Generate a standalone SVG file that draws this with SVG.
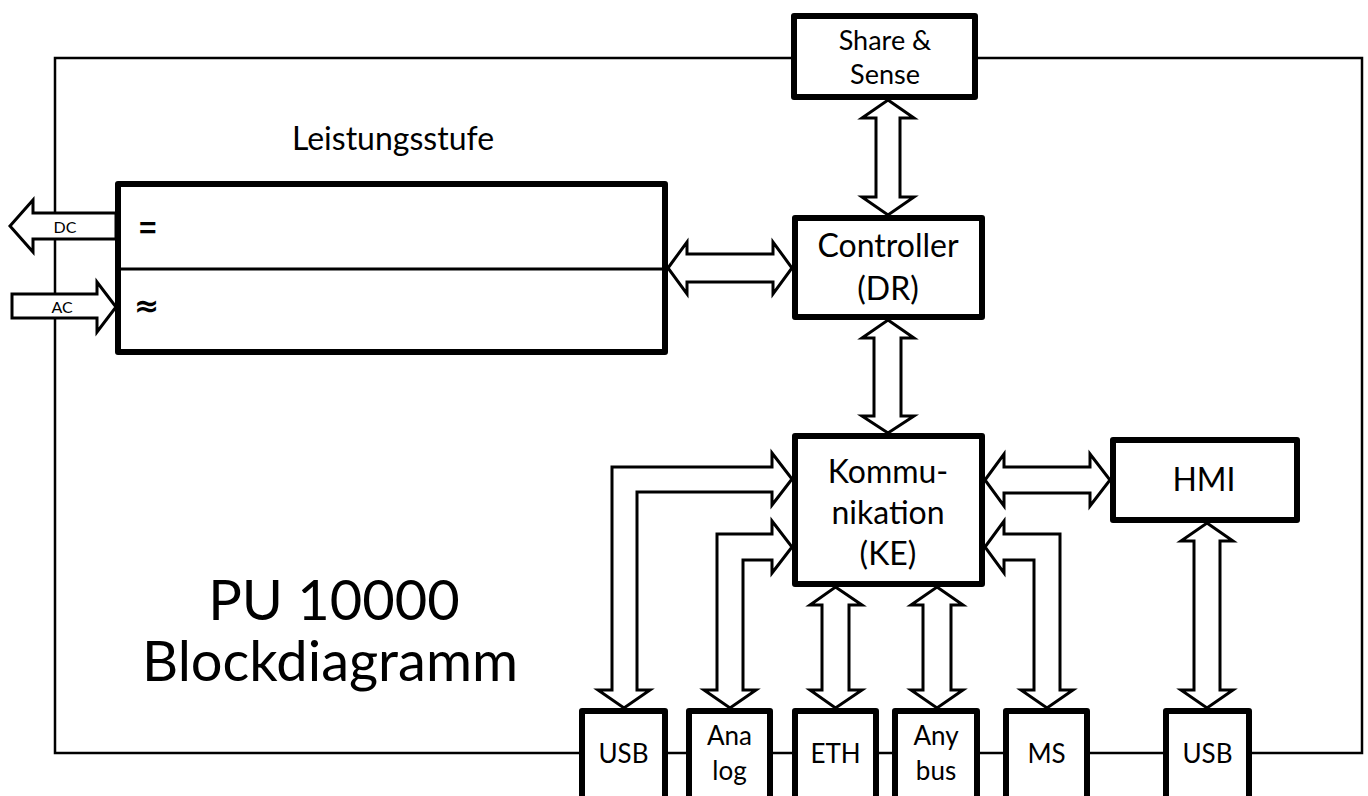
<svg xmlns="http://www.w3.org/2000/svg" width="1368" height="796" viewBox="0 0 1368 796">
<style>
.frame{fill:none;stroke:#000;stroke-width:2.5}
.box{fill:#fff;stroke:#000;stroke-width:6;stroke-linejoin:round}
.arr{fill:#fff;stroke:#000;stroke-width:3;stroke-linejoin:miter}
.div{stroke:#000;stroke-width:3}
text{font-family:Lato,"Open Sans","Liberation Sans",sans-serif;fill:#000;text-anchor:middle}
.t28{font-size:27px}
.t34{font-size:32px}
.t26{font-size:26px}
.small{font-size:16px}
.big{font-size:56px}
.sym{font-family:"Liberation Sans",Arial,sans-serif;font-size:30px;font-weight:bold;text-anchor:start}
.sym2{font-family:"DejaVu Sans",sans-serif;font-size:30px;font-weight:bold;text-anchor:start}
</style>
<rect id="frame" class="frame" x="55" y="58" width="1307" height="695"/>
<g id="title">
<text class="big" x="334" y="620">PU 10000</text>
<text class="big" x="330" y="681">Blockdiagramm</text>
</g>
<g id="leistungsstufe">
<text class="t34" x="393" y="150">Leistungsstufe</text>
<rect class="box" x="118" y="184" width="547" height="168"/>
<line class="div" x1="118" y1="269" x2="665" y2="269"/>
<text class="sym" x="139" y="238">=</text>
<text class="sym2" x="134" y="316">≈</text>
</g>
<g id="share-sense">
<rect class="box" x="794" y="16" width="181" height="81"/>
<text class="t28" x="885" y="50">Share &amp;</text>
<text class="t28" x="885" y="84">Sense</text>
</g>
<g id="controller">
<rect class="box" x="795" y="218" width="187" height="99"/>
<text class="t34" x="888" y="257">Controller</text>
<text class="t34" x="888" y="300">(DR)</text>
</g>
<g id="kommunikation">
<rect class="box" x="795" y="436" width="187" height="148"/>
<text class="t34" x="888" y="483">Kommu-</text>
<text class="t34" x="888" y="524">nikation</text>
<text class="t34" x="888" y="565">(KE)</text>
</g>
<g id="hmi">
<rect class="box" x="1113" y="440" width="184" height="80"/>
<text class="t34" x="1204" y="491">HMI</text>
</g>
<g id="usb1">
<rect class="box" x="582" y="711" width="83" height="100"/>
<text class="t26" x="623.5" y="763">USB</text>
</g>
<g id="analog">
<rect class="box" x="689" y="711" width="81" height="100"/>
<text class="t26" x="729.5" y="745">Ana</text>
<text class="t26" x="729.5" y="780">log</text>
</g>
<g id="eth">
<rect class="box" x="795" y="711" width="81" height="100"/>
<text class="t26" x="835.5" y="763">ETH</text>
</g>
<g id="anybus">
<rect class="box" x="895" y="711" width="82" height="100"/>
<text class="t26" x="936" y="745">Any</text>
<text class="t26" x="936" y="780">bus</text>
</g>
<g id="ms">
<rect class="box" x="1006" y="711" width="81" height="100"/>
<text class="t26" x="1046.5" y="763">MS</text>
</g>
<g id="usb2">
<rect class="box" x="1166" y="711" width="83" height="100"/>
<text class="t26" x="1207.5" y="763">USB</text>
</g>
<g id="connectors">
<polygon class="arr" points="10,226 33,200 33,213 116,213 116,239 33,239 33,252"/>
<text class="small" x="65" y="233">DC</text>
<polygon class="arr" points="12,294 97,294 97,282 116,307 97,332 97,318 12,318"/>
<text class="small" x="62" y="313">AC</text>
<polygon class="arr" points="888,100 914,118 900,118 900,197 914,197 888,215 862,197 876,197 876,118 862,118"/>
<polygon class="arr" points="668,268 687,242 687,254 773,254 773,242 792,268 773,294 773,282 687,282 687,294"/>
<polygon class="arr" points="888,320 914,338 901,338 901,416 914,416 888,433 862,416 874,416 874,338 862,338"/>
<polygon class="arr" points="985,480 1004,454 1004,467 1090,467 1090,454 1110,480 1090,506 1090,493 1004,493 1004,506"/>
<polygon class="arr" points="1207,523 1233,541 1220,541 1220,690 1233,690 1207,708 1181,690 1194,690 1194,541 1181,541"/>
<polygon class="arr" points="792,479 772,505 772,492 637,492 637,690 650,690 624,708 598,690 612,690 612,467 772,467 772,453"/>
<polygon class="arr" points="792,547 772,573 772,560 743,560 743,690 756,690 730,708 704,690 717,690 717,534 772,534 772,521"/>
<polygon class="arr" points="835.5,587 862,605 849,605 849,690 862,690 835.5,708 810,690 822,690 822,605 810,605"/>
<polygon class="arr" points="937,587 963,605 951,605 951,690 963,690 937,708 911,690 923,690 923,605 911,605"/>
<polygon class="arr" points="985,547 1004,521 1004,534 1060,534 1060,690 1073,690 1047,708 1021,690 1034,690 1034,560 1004,560 1004,573"/>
</g>
</svg>
